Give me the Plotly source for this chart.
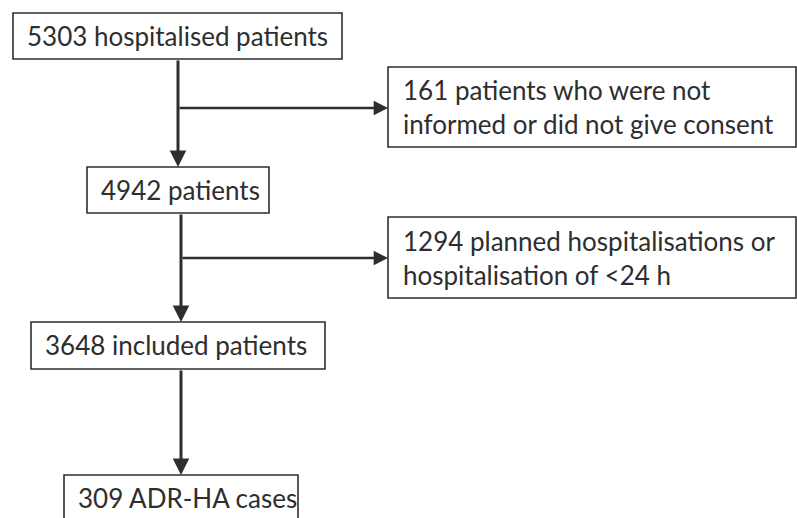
import plotly.graph_objects as go

# ---- data ----
main_counts = [5303, 4942, 3648, 309]
main_labels = ["hospitalised patients", "patients", "included patients", "ADR-HA cases"]
excl_counts = [161, 1294]
excl_labels = ["patients who were not<br>informed or did not give consent",
               "planned hospitalisations or<br>hospitalisation of <24 h"]

# ---- layout (pixel coordinates) ----
W, H = 797, 518
main_boxes = [(13, 13, 342, 59), (87, 167, 269, 213), (31, 322, 325, 369), (64, 475, 298, 540)]
excl_boxes = [(388, 67, 797, 147), (388, 217, 797, 298)]
trunk_x = [178, 181, 181]
branch_y = [108, 258]

FONT = "Lato"
FS = 26
INK = "#2e2e2e"

fig = go.Figure()
shapes = []
annots = []

for (x0, y0, x1, y1), n, lab in zip(main_boxes, main_counts, main_labels):
    shapes.append(dict(type="rect", x0=x0, y0=y0, x1=x1, y1=y1, xref="x", yref="y",
                       line=dict(color=INK, width=1.6), fillcolor="white", layer="above"))
    yc = (y0 + min(y1, y0 + 46)) / 2
    annots.append(dict(x=x0 + 12, y=yc, xref="x", yref="y", text=f"{n} {lab}",
                       showarrow=False, xanchor="left", yanchor="middle",
                       font=dict(family=FONT, size=FS, color=INK)))

for (x0, y0, x1, y1), n, lab in zip(excl_boxes, excl_counts, excl_labels):
    shapes.append(dict(type="rect", x0=x0, y0=y0, x1=x1 - 1, y1=y1, xref="x", yref="y",
                       line=dict(color=INK, width=1.6), fillcolor="white", layer="above"))
    annots.append(dict(x=x0 + 13, y=(y0 + y1) / 2, xref="x", yref="y", text=f"{n} {lab}",
                       showarrow=False, xanchor="left", yanchor="middle", align="left",
                       font=dict(family=FONT, size=FS, color=INK)))

# vertical arrows between main boxes
for i in range(3):
    x = trunk_x[i]
    y_start = main_boxes[i][3]
    y_end = main_boxes[i + 1][1]
    annots.append(dict(x=x, y=y_end, ax=x, ay=y_start, xref="x", yref="y", axref="x", ayref="y",
                       showarrow=True, arrowhead=2, arrowsize=1.1, arrowwidth=3, arrowcolor=INK,
                       standoff=0, startstandoff=0, text=""))

# horizontal branch arrows to exclusion boxes
for i in range(2):
    x = trunk_x[i]
    y = branch_y[i]
    annots.append(dict(x=excl_boxes[i][0], y=y, ax=x, ay=y, xref="x", yref="y", axref="x", ayref="y",
                       showarrow=True, arrowhead=2, arrowsize=1.1, arrowwidth=2.6, arrowcolor=INK,
                       standoff=0, startstandoff=0, text=""))

fig.update_layout(
    width=W, height=H, margin=dict(l=0, r=0, t=0, b=0),
    paper_bgcolor="white", plot_bgcolor="white",
    xaxis=dict(range=[0, W], visible=False, fixedrange=True),
    yaxis=dict(range=[H, 0], visible=False, fixedrange=True),
    shapes=shapes, annotations=annots, showlegend=False,
)

fig.write_html("out.html", config={"displayModeBar": False},
               post_script="document.body.style.margin='0';document.body.style.overflow='hidden';")
